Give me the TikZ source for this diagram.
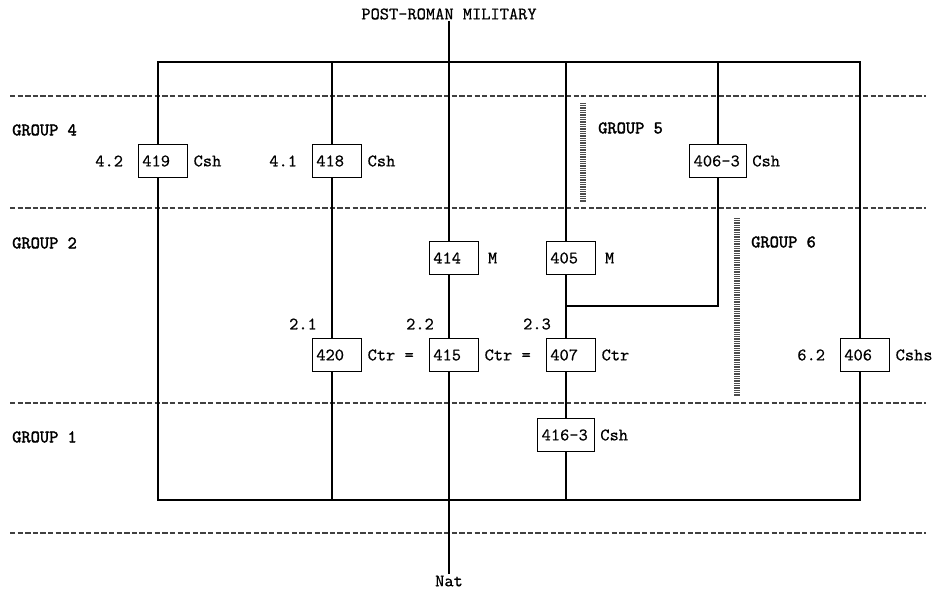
\documentclass[tikz,border=0pt]{standalone}
\usepackage{fontspec}
\usetikzlibrary{positioning}
\newfontfamily\plainmono[FakeBold=0.5]{lmmono10-regular.otf}
\newfontfamily\heavymono[FakeBold=2]{lmmono10-regular.otf}
\newcommand{\typew}{\plainmono\fontsize{15}{17}\selectfont}
\newcommand{\typeb}{\heavymono\fontsize{15}{17}\selectfont}
\tikzset{
  unit/.style={rectangle,draw=black,fill=white,line width=1pt,minimum height=0.98cm,
    text width=1.24cm,inner xsep=0.12cm,align=left,font=\typew},
  wideunit/.style={unit,text width=1.46cm},
  tag/.style={inner sep=1pt,font=\typew},
  grp/.style={inner sep=0pt,anchor=west,font=\typeb},
  sep/.style={line width=0.9pt,black!75,dash pattern=on 4.5pt off 2pt},
  wire/.style={line width=1pt},
  hatch/.style={line width=0.19cm,black!70,dash pattern=on 0.7pt off 0.8pt}
}
\begin{document}
\begin{tikzpicture}[x=0.03cm,y=-0.03cm]
\useasboundingbox (0,0) rectangle (934,596);
% band separators
\foreach \y in {96,208,403,533}
  \draw[sep] (10,\y) -- (926,\y);

% frame and columns
\coordinate (tl) at (158,62);
\coordinate (br) at (860,500);
\coordinate (t2) at (332,62);
\coordinate (b2) at (332,500);
\coordinate (t3) at (566,62);
\coordinate (b3) at (566,500);
\coordinate (t4) at (718,62);
\coordinate (k4) at (718,306);
\coordinate (k3) at (566,306);
\draw[wire] (tl) rectangle (br);
\draw[wire] (t2) -- (b2);
\draw[wire] (t3) -- (b3);
\draw[wire] (t4) -- (k4) -- (k3);

% main axis
\node[tag] (top) at (449,14) {POST-ROMAN MILITARY};
\node[tag] (nat) at (449,581) {Nat};
\draw[wire] (top) -- (nat);

% group labels
\node[grp] (g4) at (12,130) {GROUP 4};
\node[grp] (g2) at (12,243) {GROUP 2};
\node[grp] (g1) at (12,437) {GROUP 1};
\node[grp] (g5) at (598,128) {GROUP 5};
\node[grp] (g6) at (751,242) {GROUP 6};
\coordinate (h5a) at (583,103);
\coordinate (h5b) at (583,202);
\coordinate (h6a) at (737,218);
\coordinate (h6b) at (737,397);
\draw[hatch] (h5a) -- (h5b);
\draw[hatch] (h6a) -- (h6b);

% group 4
\node[unit] (u419) at (163,161) {419};
\node[unit] (u418) at (337,161) {418};
\node[wideunit] (u4063) at (718,161) {406-3};
\node[tag,left=0.4cm of u419] (l42) {4.2};
\node[tag,left=0.4cm of u418] (l41) {4.1};
\node[tag,right=0.12cm of u419] (c419) {Csh};
\node[tag,right=0.12cm of u418] (c418) {Csh};
\node[tag,right=0.12cm of u4063] (c4063) {Csh};

% group 2
\node[unit] (u414) at (454,258) {414};
\node[unit] (u405) at (571,258) {405};
\node[tag,right=0.22cm of u414] (c414) {M};
\node[tag,right=0.22cm of u405] (c405) {M};
\node[unit] (u420) at (337,355) {420};
\node[unit] (u415) at (454,355) {415};
\node[unit] (u407) at (571,355) {407};
\node[unit] (u406) at (865,355) {406};
\node[tag] (l21) at (303,324) {2.1};
\node[tag] (l22) at (420,324) {2.2};
\node[tag] (l23) at (537,324) {2.3};
\node[tag,right=0.12cm of u420] (c420) {Ctr =};
\node[tag,right=0.12cm of u415] (c415) {Ctr =};
\node[tag,right=0.12cm of u407] (c407) {Ctr};
\node[tag,left=0.4cm of u406] (l62) {6.2};
\node[tag,right=0.12cm of u406] (c406) {Cshs};

% group 1
\node[wideunit] (u4163) at (566,435) {416-3};
\node[tag,right=0.12cm of u4163] (c4163) {Csh};
\end{tikzpicture}
\end{document}
